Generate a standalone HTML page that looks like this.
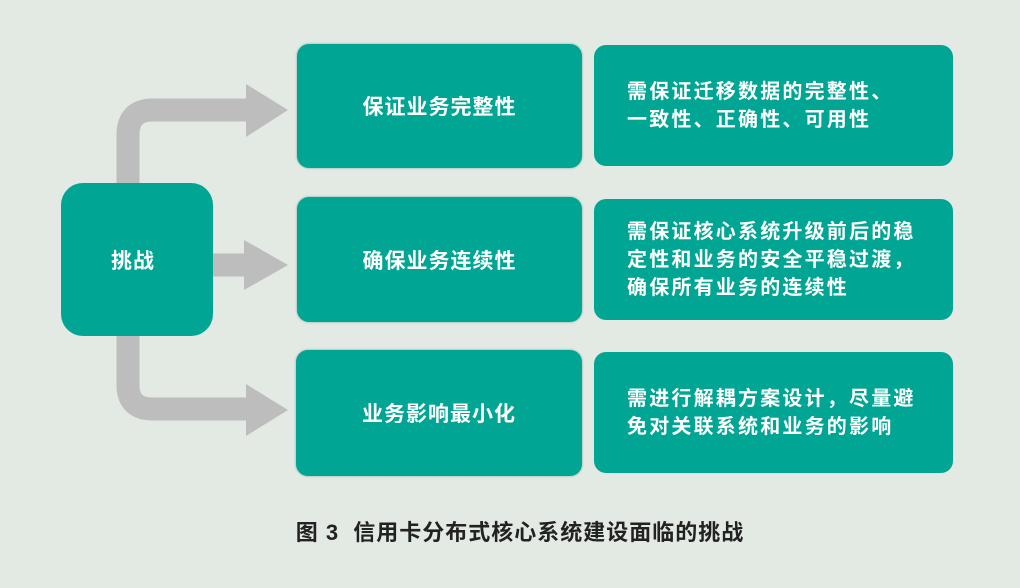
<!DOCTYPE html><html><head><meta charset="utf-8"><style>
body{margin:0;width:1020px;height:588px;background:#e3e9e3;position:relative;overflow:hidden;font-family:"Liberation Sans","Noto Sans CJK SC",sans-serif}
.b{position:absolute;background:#00a693;color:#fff;display:flex;align-items:center;justify-content:center;font-weight:bold;font-size:21px;letter-spacing:1px;box-sizing:border-box}
.m{border-radius:12px;box-shadow:0 0 2px #7a9;}
.r{border-radius:12px;justify-content:flex-start;padding-left:33px;font-size:20px;letter-spacing:2.2px;line-height:28px}
</style></head><body>
<svg width="1020" height="588" style="position:absolute;left:0;top:0">
<g fill="none" stroke="#bdbdbd" stroke-width="23">
<path d="M128 190 V135 Q128 110 153 110 H250"/>
<path d="M128 330 V385 Q128 409 153 409 H250"/>
<path d="M210 265 H248"/>
</g>
<g fill="#bdbdbd">
<polygon points="246,84 288,110 246,137"/>
<polygon points="244,240 288,265 244,290"/>
<polygon points="246,384 288,410 246,436"/>
</g>
</svg>
<div class="b" style="left:61px;top:183px;width:152px;height:153px;border-radius:22px;padding-right:8px">挑战</div>
<div class="b m" style="left:297px;top:44px;width:285px;height:124px">保证业务完整性</div>
<div class="b m" style="left:297px;top:197px;width:285px;height:125px">确保业务连续性</div>
<div class="b m" style="left:296px;top:350px;width:286px;height:126px">业务影响最小化</div>
<div class="b r" style="left:594px;top:45px;width:359px;height:121px"><div>需保证迁移数据的完整性、<br>一致性、正确性、可用性</div></div>
<div class="b r" style="left:594px;top:199px;width:359px;height:121px"><div>需保证核心系统升级前后的稳<br>定性和业务的安全平稳过渡，<br>确保所有业务的连续性</div></div>
<div class="b r" style="left:594px;top:352px;width:359px;height:121px"><div>需进行解耦方案设计，尽量避<br>免对关联系统和业务的影响</div></div>
<div style="position:absolute;left:0;width:1040px;top:515px;text-align:center;font-size:22px;letter-spacing:1px;font-weight:bold;color:#222">图 3&nbsp; 信用卡分布式核心系统建设面临的挑战</div>
</body></html>
